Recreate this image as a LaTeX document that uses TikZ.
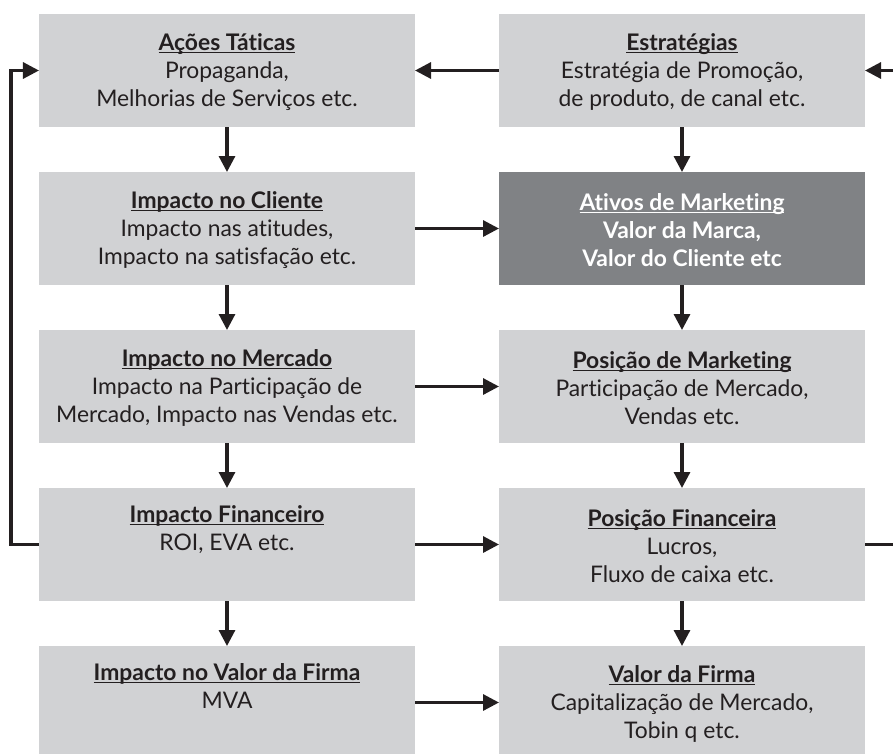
\documentclass[tikz,border=0pt]{standalone}
\usepackage{fontspec}
\setmainfont{Lato}[Ligatures=NoCommon]
\usepackage{tikz}
\usetikzlibrary{positioning,arrows.meta}
\definecolor{BoxGray}{HTML}{D1D2D4}
\definecolor{AssetGray}{HTML}{808285}
\definecolor{Ink}{HTML}{231F20}
\newcommand{\titulo}[1]{\underline{\smash{\textbf{#1}}}\strut}

\begin{document}
\begin{tikzpicture}[
      node distance=0.9cm and 1.68cm,
      every node/.style={align=center},
      box/.style={fill=BoxGray, text=Ink, inner sep=0pt, outer sep=0pt, minimum height=2.26cm,
        font=\fontsize{13}{15.9}\selectfont},
      leftbox/.style={box, minimum width=7.52cm},
      rightbox/.style={box, minimum width=7.32cm},
      asset/.style={rightbox, fill=AssetGray, text=white, font=\fontsize{13}{15.9}\selectfont\bfseries},
      arrow/.style={line width=1.8pt, draw=Ink, -{Triangle[length=0.32cm,width=0.32cm]}}
    ]
      \useasboundingbox (0,0) rectangle (17.86,-15.06);
      \clip (0,0) rectangle (17.86,-15.06);

      % left column
      \node[leftbox, anchor=north west] (acoes) at (0.78,-0.28)
        {\titulo{Ações Táticas}\\Propaganda,\\Melhorias de Serviços etc.};
      \node[leftbox, below=of acoes] (cliente)
        {\titulo{Impacto no Cliente}\\Impacto nas atitudes,\\Impacto na satisfação etc.};
      \node[leftbox, below=of cliente] (mercado)
        {\titulo{Impacto no Mercado}\\Impacto na Participação de\\Mercado, Impacto nas Vendas etc.};
      \node[leftbox, below=of mercado] (impfin)
        {\titulo{Impacto Financeiro}\\ROI, EVA etc.\\\strut};
      \node[leftbox, below=of impfin] (impvalor)
        {\titulo{Impacto no Valor da Firma}\\MVA\\\strut};

      % right column
      \node[rightbox, right=of acoes] (estrat)
        {\titulo{Estratégias}\\Estratégia de Promoção,\\de produto, de canal etc.};
      \node[asset, below=of estrat] (ativos)
        {\titulo{Ativos de Marketing}\\Valor da Marca,\\Valor do Cliente etc};
      \node[rightbox, below=of ativos] (posmkt)
        {\titulo{Posição de Marketing}\\Participação de Mercado,\\Vendas etc.};
      \node[rightbox, below=of posmkt] (posfin)
        {\titulo{Posição Financeira}\\Lucros,\\Fluxo de caixa etc.};
      \node[rightbox, below=of posfin] (valfirma)
        {\titulo{Valor da Firma}\\Capitalização de Mercado,\\Tobin q etc.};

      % vertical flow
      \draw[arrow] (acoes) -- (cliente);
      \draw[arrow] (cliente) -- (mercado);
      \draw[arrow] (mercado) -- (impfin);
      \draw[arrow] (impfin) -- (impvalor);
      \draw[arrow] (estrat) -- (ativos);
      \draw[arrow] (ativos) -- (posmkt);
      \draw[arrow] (posmkt) -- (posfin);
      \draw[arrow] (posfin) -- (valfirma);

      % horizontal flow
      \draw[arrow] (estrat) -- (acoes);
      \draw[arrow] (cliente) -- (ativos);
      \draw[arrow] (mercado) -- (posmkt);
      \draw[arrow] (impfin) -- (posfin);
      \draw[arrow] (impvalor) -- (valfirma);

      % feedback loops
      \draw[arrow] (impfin.west) -- ++(-0.56,0) |- (acoes.west);
      \draw[arrow] (posfin.east) -- ++(1.2,0) |- (estrat.east);
    \end{tikzpicture}
\end{document}
